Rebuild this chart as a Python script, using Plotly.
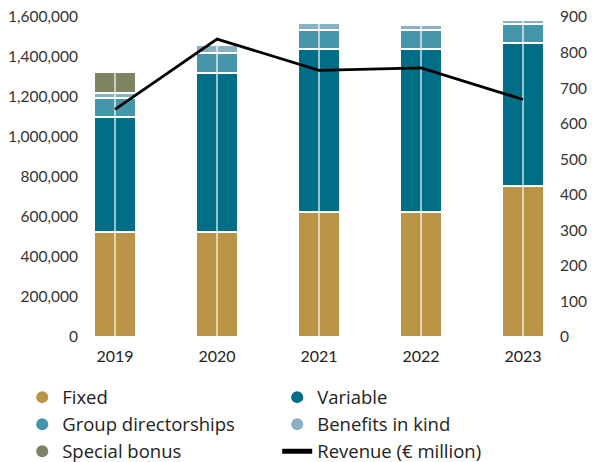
import plotly.graph_objects as go

years = ["2019", "2020", "2021", "2022", "2023"]
fixed = [525000, 525000, 625000, 625000, 755000]
variable = [575000, 795000, 815000, 815000, 715000]
group_dir = [95000, 100000, 95000, 95000, 95000]
benefits = [25000, 40000, 35000, 25000, 20000]
special_bonus = [105000, None, None, None, None]
revenue = [640, 838, 750, 757, 668]

colors = {
    "Fixed": "#BA9446",
    "Variable": "#006E87",
    "Group directorships": "#4596AB",
    "Benefits in kind": "#88B1C4",
    "Special bonus": "#7E8461",
}

FONT = "Lato, 'Open Sans', sans-serif"
fig = go.Figure()

series = [
    ("Fixed", fixed),
    ("Variable", variable),
    ("Group directorships", group_dir),
    ("Benefits in kind", benefits),
    ("Special bonus", special_bonus),
]
for name, vals in series:
    fig.add_trace(go.Bar(
        x=years, y=vals, name=name, marker_color=colors[name],
        marker_line=dict(color="white", width=1.6), width=0.4,
        showlegend=False, yaxis="y",
    ))

# white vertical split line through the middle of each bar
totals = [sum(v for v in col if v is not None) for col in zip(fixed, variable, group_dir, benefits, special_bonus)]
sx, sy = [], []
for yr, t in zip(years, totals):
    sx += [yr, yr, None]
    sy += [0, t, None]
fig.add_trace(go.Scatter(x=sx, y=sy, mode="lines", line=dict(color="rgba(255,255,255,0.85)", width=1.4),
                         showlegend=False, hoverinfo="skip", yaxis="y"))

fig.add_trace(go.Scatter(x=years, y=revenue, mode="lines", line=dict(color="black", width=2.8),
                         showlegend=False, yaxis="y2"))

# legend entries
legend_order = [
    ("Fixed", "marker"), ("Variable", "marker"),
    ("Group directorships", "marker"), ("Benefits in kind", "marker"),
    ("Special bonus", "marker"), ("Revenue (€ million)", "line"),
]
for name, kind in legend_order:
    if kind == "marker":
        fig.add_trace(go.Scatter(x=[None], y=[None], mode="markers", name=name,
                                 marker=dict(symbol="circle", size=15, color=colors[name])))
    else:
        fig.add_trace(go.Scatter(x=[None], y=[None], mode="lines", name=name,
                                 line=dict(color="black", width=3), yaxis="y2"))

fig.update_layout(
    width=595, height=462,
    margin=dict(l=88, r=47, t=17, b=125, autoexpand=False),
    barmode="stack",
    bargap=0.6,
    plot_bgcolor="white", paper_bgcolor="white",
    font=dict(family=FONT, size=14, color="#333333"),
    xaxis=dict(type="category", range=[-0.265, 4.245], showgrid=False, showline=False,
               ticks="", ticklabelstandoff=8, tickfont=dict(size=16, color="#222222")),
    yaxis=dict(range=[0, 1600000], dtick=200000, tickformat=",", showgrid=False, showline=False,
               zeroline=False, ticks="", ticklabelstandoff=9, tickfont=dict(size=15.5, color="#333333")),
    yaxis2=dict(range=[0, 900], dtick=100, overlaying="y", side="right", showgrid=False,
                showline=False, zeroline=False, ticks="", ticklabelstandoff=11,
                tickfont=dict(size=15.5, color="#333333")),
    legend=dict(orientation="h", xref="paper", yref="paper",
                x=-0.143, xanchor="left", y=-0.13, yanchor="top",
                traceorder="normal",
                entrywidth=210, entrywidthmode="pixels", itemsizing="constant",
                font=dict(family="'Open Sans', Lato, sans-serif", size=18.5, color="#222222"),
                tracegroupgap=0),
    showlegend=True,
)

fig.write_html("out.html", config={"displayModeBar": False},
               post_script="document.body.style.margin='0';")
